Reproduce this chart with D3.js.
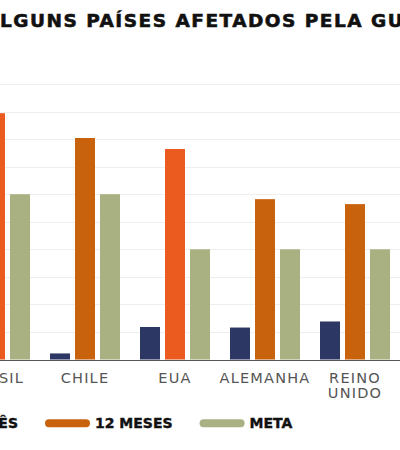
<!DOCTYPE html>
<meta charset="utf-8">
<title>Inflação - países afetados pela guerra</title>
<style>
  body { margin: 0; background: #fff; overflow: hidden; }
  svg { display: block; font-family: "DejaVu Sans", sans-serif; }
</style>
<body>
<script src="https://cdn.jsdelivr.net/npm/d3@7"></script>
<script>

const titulo = "ALGUNS PAÍSES AFETADOS PELA GUERRA";
const paises = ["BRASIL", "CHILE", "EUA", "ALEMANHA", "REINO UNIDO"];
const series = ["MÊS", "12 MESES", "META"];
// valores (%)
const mes     = [0.40, 0.11, 0.59, 0.58, 0.69];
const meses12 = [4.47, 4.02, 3.82, 2.91, 2.82];
const meta    = [3.0, 3.0, 2.0, 2.0, 2.0];
const yTicks  = d3.range(0, 5.01, 0.5);

const width = 400, height = 450;

const cores = { "MÊS": "#2c3763", "12 MESES": "#c8620c", "META": "#a9b081" };
const laranjaForte = "#eb5a1e";
const destaque12 = ["BRASIL", "EUA"];

const svg = d3.select("body").append("svg")
    .attr("width", width)
    .attr("height", height);

const x0 = d3.scaleBand().domain(paises).range([-40, 390]).paddingInner(20 / 90).paddingOuter(0);
const x1 = d3.scaleBand().domain(series).range([0, x0.bandwidth()]).paddingInner(0.2);
const y = d3.scaleLinear().domain([0, 5]).range([359.5, 84]);

// grade
svg.append("g")
  .selectAll("line")
  .data(yTicks.filter(d => d > 0))
  .enter().append("line")
    .attr("x1", 0).attr("x2", width)
    .attr("y1", d => Math.round(y(d)) + 0.5)
    .attr("y2", d => Math.round(y(d)) + 0.5)
    .style("stroke", "#eeeeee")
    .style("stroke-width", 1);

const dados = paises.map((p, i) => ({
  pais: p,
  valores: [
    { serie: "MÊS", v: mes[i] },
    { serie: "12 MESES", v: meses12[i] },
    { serie: "META", v: meta[i] }
  ]
}));

const grupos = svg.append("g")
  .selectAll("g")
  .data(dados)
  .enter().append("g")
    .attr("transform", d => `translate(${x0(d.pais)},0)`);

grupos.selectAll("rect")
  .data(d => d.valores.map(v => Object.assign({ pais: d.pais }, v)))
  .enter().append("rect")
    .attr("x", d => x1(d.serie))
    .attr("width", x1.bandwidth())
    .attr("y", d => y(d.v))
    .attr("height", d => y(0) - y(d.v))
    .style("fill", d => (d.serie === "12 MESES" && destaque12.includes(d.pais)) ? laranjaForte : cores[d.serie]);

// linha de base
svg.append("line")
  .attr("x1", 0).attr("x2", width)
  .attr("y1", 360.5).attr("y2", 360.5)
  .style("stroke", "#555")
  .style("stroke-width", 1);

// rótulos dos países
grupos.append("text")
  .attr("x", x0.bandwidth() / 2)
  .attr("y", 383.3)
  .attr("text-anchor", "middle")
  .style("font-size", "14.5px")
  .style("letter-spacing", "1.2px")
  .style("fill", "#555")
  .selectAll("tspan")
  .data(d => d.pais.split(" "))
  .enter().append("tspan")
    .attr("x", x0.bandwidth() / 2)
    .attr("dy", (d, i) => i ? 15 : 0)
    .text(d => d);

// título
const t = svg.append("text")
  .attr("y", 26.7)
  .style("font-size", "18.5px")
  .style("font-weight", "bold")
  .style("fill", "#111")
  .style("stroke", "#111")
  .style("stroke-width", 0.6)
  .text(titulo);
const pL = t.node().getStartPositionOfChar(1).x;
const pG = t.node().getStartPositionOfChar(28).x;
const ls = (371 - (pG - pL)) / 27;
t.style("letter-spacing", ls + "px")
  .attr("x", -pL - ls);

// legenda
const leg = svg.append("g");
let pos = 0;
const itens = series.map(s => {
  const g = leg.append("g");
  g.append("line")
    .attr("x1", 4).attr("x2", 41)
    .attr("y1", 423.3).attr("y2", 423.3)
    .style("stroke", cores[s])
    .style("stroke-width", 8)
    .style("stroke-linecap", "round");
  const txt = g.append("text")
    .attr("x", 50)
    .attr("y", 428.3)
    .style("font-size", "14px")
    .style("font-weight", "bold")
    .style("fill", "#111")
    .style("stroke", "#111")
    .style("stroke-width", 0.4)
    .text(s);
  const w = txt.node().getComputedTextLength();
  g.attr("transform", `translate(${pos},0)`);
  const item = { g, pos };
  pos += 50 + w + 27;
  return item;
});
// alinhar o segundo item (12 MESES) em x = 45
const shift = 45 - itens[1].pos;
leg.attr("transform", `translate(${shift},0)`);

</script>
</body>
